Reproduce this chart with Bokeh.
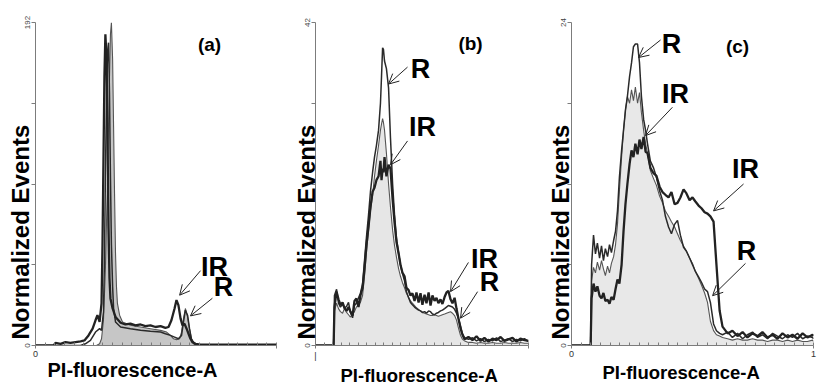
from bokeh.plotting import figure
from bokeh.layouts import row
from bokeh.models import Range1d, FixedTicker, Label, Arrow, OpenHead, Title
from bokeh.embed import file_html
from bokeh.resources import INLINE

Y_TITLE = "Normalized  Events"
X_TITLE = "PI-fluorescence-A"

# ---------------- panel (a) ----------------
a_ymax = 192
a_yticks = [0, 48, 96, 144, 192]
a_ylabels = {0: "0", 48: "", 96: "", 144: "", 192: "192"}
a_xlabels = {0: "0", 1: ""}
a_fill_x = [0, 0.253, 0.266, 0.274, 0.282, 0.290, 0.299, 0.307, 0.311, 0.315,
            0.320, 0.324, 0.328, 0.332, 0.336, 0.340, 0.349, 0.361, 0.394, 0.436,
            0.477, 0.519, 0.544, 0.560, 0.573, 0.585, 0.598, 0.606, 0.614, 0.622,
            0.631, 0.639, 0.647, 0.656, 0.668, 1.0]
a_fill_y = [0, 0, 1, 4, 15, 45, 100, 160, 185, 192,
            170, 130, 90, 55, 35, 25, 18, 14, 12, 11,
            10, 9, 8, 6, 4, 3.5, 4, 8, 16, 22,
            17, 10, 4, 1, 0, 0]
a_r_x = [0, 0.187, 0.207, 0.228, 0.249, 0.266, 0.274, 0.282, 0.286, 0.290,
         0.295, 0.299, 0.303, 0.307, 0.311, 0.315, 0.320, 0.324, 0.332, 0.353,
         0.394, 0.436, 0.477, 0.519, 0.539, 0.560, 0.577, 0.593, 0.606, 0.614,
         0.622, 0.631, 0.639, 0.647, 0.660, 0.685, 1.0]
a_r_y = [0, 0, 1, 3, 8, 10, 9, 20, 50, 100,
         150, 175, 180, 150, 100, 60, 35, 22, 14, 11,
         10, 9, 8.5, 8, 7, 6, 5, 4, 6, 14,
         21, 18, 10, 4, 1, 0, 0]
a_ir_x = [0, 0.075, 0.083, 0.104, 0.124, 0.145, 0.166, 0.187, 0.203, 0.220,
          0.237, 0.249, 0.257, 0.266, 0.274, 0.278, 0.282, 0.286, 0.290, 0.295,
          0.299, 0.303, 0.307, 0.311, 0.320, 0.332, 0.353, 0.373, 0.394, 0.415,
          0.436, 0.456, 0.477, 0.498, 0.519, 0.539, 0.552, 0.564, 0.577, 0.585,
          0.593, 0.602, 0.610, 0.618, 0.627, 0.635, 0.643, 0.651, 0.664, 0.685,
          1.0]
a_ir_y = [0, 0, 1.5, 1, 2, 1.5, 2, 2.5, 3, 6,
          10, 15, 18, 14, 25, 60, 110, 160, 185, 170,
          120, 70, 40, 28, 22, 17, 13.5, 12.5, 13, 12,
          12.5, 11.5, 12, 11, 11.5, 10.5, 11, 15, 22, 27,
          24, 16, 12, 13, 10, 7, 4, 2, 1, 0.5,
          0.5]
a_notes = [("(a)", 0.722, 179.0, "tag"), ("IR", 0.743, 46.8, "big"), ("R", 0.780, 34.5, "big")]
a_arrows = [(0.685, 44.5, 0.598, 29.9), (0.734, 28.1, 0.643, 17.6)]

# ---------------- panel (b) ----------------
b_ymax = 42
b_yticks = [0, 10.5, 21, 31.5, 42]
b_ylabels = {0: "0", 10.5: "", 21: "", 31.5: "", 42: "42"}
b_xlabels = {0: "|", 1: ""}
b_x = [0, 0.085, 0.089, 0.099, 0.108, 0.117, 0.127, 0.136, 0.146, 0.155,
       0.164, 0.174, 0.183, 0.192, 0.202, 0.211, 0.221, 0.230, 0.239, 0.249,
       0.258, 0.268, 0.277, 0.286, 0.296, 0.305, 0.310, 0.315, 0.319, 0.324,
       0.333, 0.343, 0.352, 0.362, 0.371, 0.380, 0.390, 0.399, 0.408, 0.418,
       0.427, 0.437, 0.446, 0.455, 0.465, 0.474, 0.484, 0.493, 0.502, 0.512,
       0.521, 0.531, 0.540, 0.549, 0.559, 0.568, 0.577, 0.587, 0.596, 0.606,
       0.615, 0.624, 0.634, 0.643, 0.653, 0.662, 0.671, 0.681, 0.690, 0.700,
       0.718, 0.737, 0.756, 0.775, 0.793, 0.812, 0.831, 0.850, 0.869, 0.887,
       0.906, 0.925, 0.944, 0.962, 0.981, 1.0]
b_fill_y = [0, 0, 4.5, 5.5, 4.8, 4.4, 4.2, 4.8, 4.3, 4,
            3.7, 4.1, 4.4, 5, 5.3, 5.6, 6.5, 9, 12, 15,
            17.5, 19.5, 22, 24, 26, 28, 28.8, 29.5, 29, 28,
            25, 21, 18, 15, 13, 11.5, 10, 9, 8.2, 7.5,
            6.8, 6.3, 5.8, 5.5, 5.2, 4.9, 4.7, 4.5, 4.3, 4.2,
            4.1, 4, 3.9, 3.9, 4, 3.9, 3.8, 3.9, 4, 4.1,
            4.2, 4.3, 4.4, 4.2, 3.9, 3.3, 2.3, 1.3, 0.8, 0.6,
            0.4, 0.4, 0.3, 0.4, 0.3, 0.3, 0.4, 0.3, 0.3, 0.4,
            0.3, 0.3, 0.3, 0.4, 0.3, 0.3]
b_r_y = [0, 0, 6.5, 7.3, 5.5, 5, 5.4, 4.8, 5.1, 5.6,
         4.3, 3.6, 5.2, 5.5, 6.2, 6.8, 8, 11, 14, 17,
         20, 22.5, 24.5, 26, 28, 31.5, 35, 38.7, 38.5, 37,
         36, 33.5, 27, 21, 17, 14, 12, 10.5, 9.4, 8.4,
         7, 6.2, 5.6, 5.3, 5, 4.8, 4.6, 4.5, 4.3, 4.4,
         4.2, 4.5, 4.4, 4.1, 4, 4.2, 4.3, 4.5, 4.6, 4.8,
         5, 5.2, 5.1, 5, 4.7, 4.2, 3.6, 2.5, 1.5, 1,
         0.8, 1.0, 0.6, 0.9, 0.5, 0.8, 0.6, 1.0, 0.5, 0.7,
         0.9, 0.5, 0.8, 0.6, 0.9, 0.5]
b_ir_y = [0, 0, 5, 7, 6, 5.3, 5.6, 4.9, 4.5, 5,
          4.4, 3.9, 5.8, 6.1, 5, 6.5, 7.5, 10, 13, 15.5,
          18, 20, 20.5, 21.5, 22, 24, 21.5, 23, 22.5, 24.5,
          22, 23.5, 23, 19, 16, 13.5, 12, 10.5, 9.5, 9,
          7.5, 7.2, 6.5, 6.8, 5.8, 6.9, 5.6, 6.8, 5.3, 6.6,
          5.5, 6.9, 5.2, 6.5, 5.8, 6.2, 5.5, 6, 5.4, 6.3,
          6.9, 7.1, 6, 5.5, 6.2, 4.8, 3.5, 2.2, 1.4, 0.8,
          1.1, 0.7, 1.2, 0.6, 1.0, 0.5, 0.9, 0.7, 1.1, 0.6,
          0.8, 1.0, 0.5, 0.9, 0.7, 0.6]
b_notes = [("(b)", 0.728, 39.3, "tag"), ("R", 0.493, 35.9, "big"), ("IR", 0.502, 28.4, "big"),
           ("IR", 0.793, 11.2, "big"), ("R", 0.817, 8.2, "big")]
b_arrows = [(0.432, 36.2, 0.343, 34.0), (0.432, 26.6, 0.352, 23.5),
            (0.718, 10.8, 0.634, 7.0), (0.761, 7.0, 0.681, 3.55)]

# ---------------- panel (c) ----------------
c_ymax = 24
c_yticks = [0, 6, 12, 18, 24]
c_ylabels = {0: "0", 6: "", 12: "", 18: "", 24: "24"}
c_xlabels = {0: "0", 1: "1"}
c_x = [0, 0.079, 0.083, 0.091, 0.099, 0.107, 0.116, 0.124, 0.132, 0.140,
       0.149, 0.157, 0.165, 0.174, 0.182, 0.190, 0.198, 0.207, 0.215, 0.223,
       0.231, 0.240, 0.248, 0.256, 0.264, 0.273, 0.281, 0.289, 0.298, 0.306,
       0.314, 0.326, 0.339, 0.351, 0.364, 0.376, 0.388, 0.401, 0.413, 0.426,
       0.438, 0.450, 0.463, 0.475, 0.488, 0.500, 0.512, 0.525, 0.537, 0.550,
       0.562, 0.574, 0.587, 0.599, 0.612, 0.624, 0.645, 0.665, 0.686, 0.707,
       0.727, 0.748, 0.769, 0.789, 0.810, 0.831, 0.851, 0.872, 0.893, 0.913,
       0.934, 0.955, 0.975, 0.996, 1.0]
c_fill_y = [0, 0, 4.8, 5.8, 5.4, 6.2, 5.6, 6.3, 5.7, 5.2,
            5.9, 5.4, 6.1, 6.6, 7.5, 9, 11.5, 14, 16, 17.5,
            18.5, 18, 19, 18.2, 19.2, 18, 18.8, 17.3, 16, 15,
            14.3, 13, 12.4, 11.9, 11.1, 10.6, 10, 9.6, 9.2, 8.8,
            8.3, 7.8, 7.4, 7, 6.5, 6.1, 5.5, 5, 4.5, 3.9,
            3.2, 1.8, 1.1, 0.8, 0.7, 0.6, 0.5, 0.4, 0.5, 0.4,
            0.4, 0.5, 0.4, 0.4, 0.3, 0.4, 0.4, 0.3, 0.4, 0.3,
            0.4, 0.3, 0.3, 0.4, 0.3]
c_r_y = [0, 0, 6, 8.2, 6.8, 7.6, 6.5, 7.4, 6.3, 7.2,
         6.6, 7.5, 6.9, 7.8, 8.5, 10, 12.5, 14.5, 16, 17.5,
         18.5, 20, 21, 22.2, 22.4, 22.4, 21, 18.5, 16.8, 16,
         15, 13.7, 13.2, 12.5, 11.5, 10.8, 9.6, 8.8, 8.3, 9,
         9.3, 8.2, 7.3, 7, 6.5, 6, 5.5, 5.1, 4.7, 4.2,
         4.0, 3.2, 1.6, 1.1, 0.9, 0.8, 1.0, 0.6, 0.9, 0.5,
         0.8, 1.0, 0.6, 0.8, 0.5, 0.9, 0.7, 0.5, 0.8, 0.6,
         0.9, 0.5, 0.7, 0.6, 0.5]
c_ir_y = [0, 0, 3.5, 4.6, 4, 4.4, 3.7, 3.5, 3.9, 3.3,
          3.4, 3.1, 3.6, 3.4, 4.2, 4.9, 4.6, 6, 8.5, 10.5,
          12, 13.5, 14.5, 14, 15, 14.2, 15.3, 14.6, 15.5, 14.4,
          14.3, 13.2, 12.8, 12.6, 11.8, 11.4, 11.2, 11, 11.4, 10.5,
          10.6, 11, 11.6, 11.3, 10.8, 11, 10.7, 10.4, 10.2, 9.9,
          9.8, 9.6, 9.2, 6, 2.6, 1.4, 0.9, 1.1, 0.7, 1.0,
          0.6, 0.9, 0.7, 1.0, 0.6, 0.8, 0.5, 0.9, 0.6, 0.8,
          0.5, 0.9, 0.6, 0.8, 0.7]
c_notes = [("(c)", 0.686, 22.2, "tag"), ("R", 0.413, 22.4, "big"), ("IR", 0.430, 18.7, "big"),
           ("IR", 0.719, 13.1, "big"), ("R", 0.723, 7.0, "big")]
c_arrows = [(0.368, 22.7, 0.277, 21.4), (0.417, 17.7, 0.306, 15.6),
            (0.711, 12.0, 0.587, 10.0), (0.719, 6.1, 0.583, 3.7)]

FONT = "Liberation Sans"
AXIS_GRAY = "#7c7c7c"


def panel(width, borders, ymax, yticks, ylabels, xlabels,
          fill_x, fill_y, fill_color, r_x, r_y, ir_x, ir_y,
          notes, arrows, ytitle, xtitle):
    left, right, top, bottom = borders
    p = figure(width=width, height=385, x_range=Range1d(0, 1), y_range=Range1d(0, ymax),
               output_backend="svg", toolbar_location=None,
               min_border_left=left, min_border_right=right,
               min_border_top=top, min_border_bottom=bottom)
    p.outline_line_color = None
    p.xgrid.visible = False
    p.ygrid.visible = False
    p.background_fill_color = "white"
    p.border_fill_color = "white"

    p.varea(x=fill_x, y1=0, y2=fill_y, fill_color=fill_color)
    p.line(fill_x, fill_y, line_color="#555555", line_width=1.1)
    p.line(r_x, r_y, line_color="#2a2a2a", line_width=1.5)
    p.line(ir_x, ir_y, line_color="#222222", line_width=2.3)

    xa = p.xaxis[0]
    xa.ticker = FixedTicker(ticks=[0, 1], minor_ticks=[i / 25 for i in range(26)])
    xa.major_label_overrides = xlabels
    xa.axis_line_color = AXIS_GRAY
    xa.major_tick_line_color = AXIS_GRAY
    xa.minor_tick_line_color = AXIS_GRAY
    xa.major_tick_out = 3
    xa.major_tick_in = 0
    xa.minor_tick_in = 3
    xa.minor_tick_out = 0
    xa.major_label_standoff = 2
    xa.major_label_text_font = FONT
    xa.major_label_text_font_size = "9px"
    xa.major_label_text_color = "#333333"

    ya = p.yaxis[0]
    ya.ticker = FixedTicker(ticks=yticks, minor_ticks=[])
    ya.major_label_overrides = ylabels
    ya.major_label_orientation = "vertical"
    ya.axis_line_color = AXIS_GRAY
    ya.major_tick_line_color = AXIS_GRAY
    ya.major_tick_out = 4
    ya.major_tick_in = 0
    ya.minor_tick_in = 0
    ya.minor_tick_out = 0
    ya.major_label_standoff = 2
    ya.major_label_text_font = FONT
    ya.major_label_text_font_size = "8px"
    ya.major_label_text_color = "#444444"

    y_off, y_stand = ytitle
    p.add_layout(Title(text=Y_TITLE, align="left", vertical_align="bottom",
                       offset=y_off, standoff=y_stand,
                       text_font=FONT, text_font_style="bold",
                       text_font_size="24px", text_color="black"), "left")
    x_off, x_stand, x_size = xtitle
    p.add_layout(Title(text=X_TITLE, align="left", vertical_align="bottom",
                       offset=x_off, standoff=x_stand,
                       text_font=FONT, text_font_style="bold",
                       text_font_size=x_size, text_color="black"), "below")

    for text, x, y, kind in notes:
        size = "19px" if kind == "tag" else "27px"
        p.add_layout(Label(x=x, y=y, text=text, text_align="center", text_baseline="middle",
                           text_font=FONT, text_font_style="bold",
                           text_font_size=size, text_color="black"))
    for x0, y0, x1, y1 in arrows:
        p.add_layout(Arrow(x_start=x0, y_start=y0, x_end=x1, y_end=y1,
                           line_color="#222222", line_width=1,
                           end=OpenHead(size=10, line_width=1, line_color="#222222")))
    return p


pa = panel(280, (35, 4, 20, 37), a_ymax, a_yticks, a_ylabels, a_xlabels,
           a_fill_x, a_fill_y, "#c6c6c6", a_r_x, a_r_y, a_ir_x, a_ir_y,
           a_notes, a_arrows, (6, -24), (12, -5, "20px"))
pb = panel(260, (35, 12, 17, 37), b_ymax, b_yticks, b_ylabels, b_xlabels,
           b_x, b_fill_y, "#e6e6e6", b_x, b_r_y, b_x, b_ir_y,
           b_notes, b_arrows, (6, -36), (25, -2, "18.5px"))
pc = panel(278, (31, 5, 22, 40), c_ymax, c_yticks, c_ylabels, c_xlabels,
           c_x, c_fill_y, "#e8e8e8", c_x, c_r_y, c_x, c_ir_y,
           c_notes, c_arrows, (6, -33), (31, 1, "18.5px"))

layout = row(pa, pb, pc)
open("out.html", "w").write(file_html(layout, INLINE))
